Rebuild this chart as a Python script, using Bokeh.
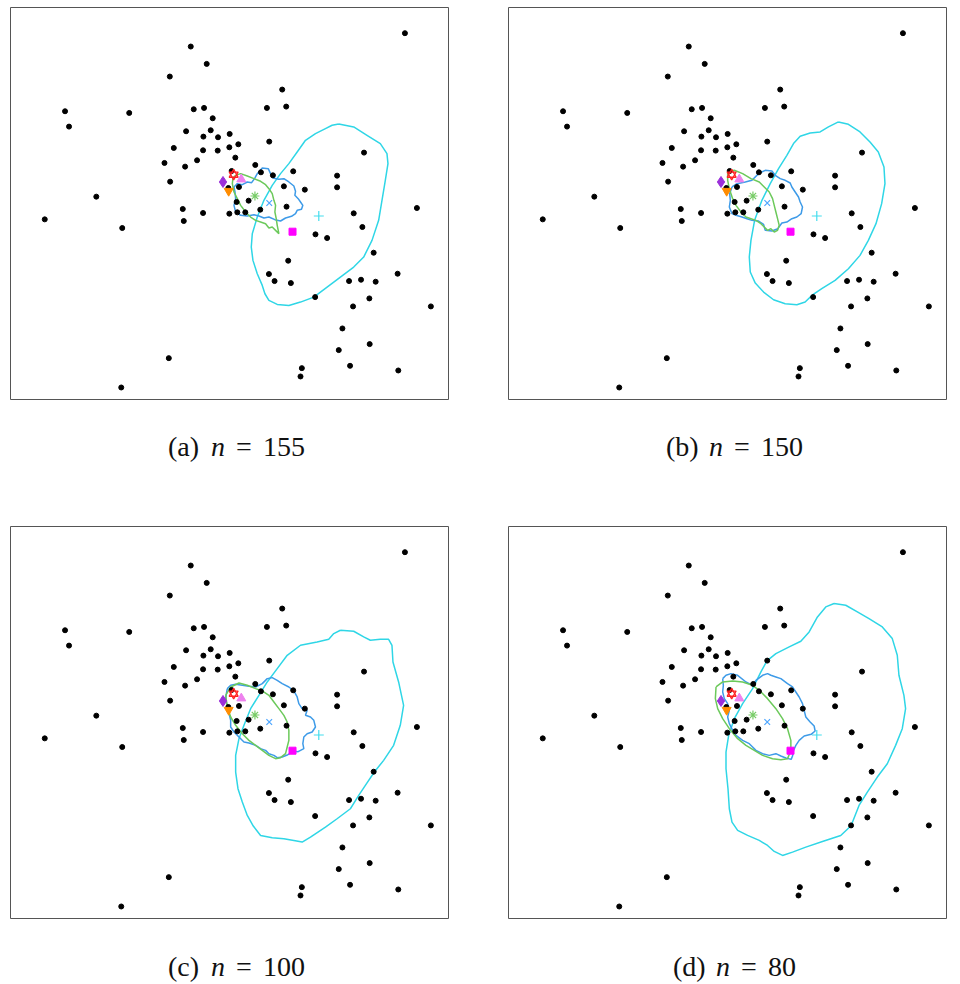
from bokeh.plotting import figure
from bokeh.models import Range1d
from bokeh.core.properties import value
from bokeh.layouts import column, row
from bokeh.embed import file_html
from bokeh.resources import INLINE

# ---------------- data (panel-local coordinates) ----------------
dot_x = [1214, 570, 618, 507, 845, 192, 385, 579, 610, 799, 857, 204, 636, 556, 630, 608, 652, 687, 806, 519,
         607, 651, 686, 713, 1091, 704, 491, 589, 553, 764, 878, 508, 693, 781, 817, 1010, 850, 1010, 913, 715,
         546, 549, 607, 686, 710, 734, 779, 858, 708, 744, 286, 131, 364, 1060, 1086, 1250, 945, 980, 1120, 863,
         805, 822, 871, 1192, 1046, 1082, 1126, 944, 1107, 1058, 1292, 1026, 1108, 1015, 1049, 1194, 904, 900, 504, 361,
         683]
dot_y = [99, 139, 191, 229, 268, 333, 338, 327, 323, 323, 319, 379, 354, 393, 390, 409, 411, 401, 424, 443,
         450, 451, 441, 432, 457, 472, 488, 480, 499, 494, 513, 544, 512, 516, 525, 526, 558, 561, 568, 560,
         626, 662, 638, 640, 636, 636, 628, 619, 605, 601, 589, 657, 683, 639, 680, 623, 702, 713, 757, 781,
         821, 842, 848, 820, 842, 838, 844, 890, 894, 918, 918, 984, 1031, 1049, 1096, 1110, 1103, 1128, 1073, 1161,
         563]

# special estimators: (x, y)
mk_purple = (667, 545)
mk_orange = (684, 572)
mk_red = (699, 523)
mk_pink = (722, 537)
mk_green = (763, 587)
mk_blue = (806, 608)
mk_cyan = (955, 647)
mk_magenta = (876, 694)

captions = [("(a)", "155"), ("(b)", "150"), ("(c)", "100"), ("(d)", "80")]

cyan_a = [(1015,371),(1060,380),(1100,405),(1140,430),(1160,460),(1163,490),(1155,540),(1145,600),(1135,660),
          (1115,720),(1090,770),(1060,800),(1020,830),(980,860),(940,890),(900,905),(865,915),(830,912),(805,900),
          (793,880),(785,855),(770,820),(757,780),(752,740),(755,700),(770,650),(790,600),(815,555),(840,520),
          (865,490),(890,455),(915,420),(945,400),(975,385),(995,375)]
blue_a = [(770,520),(785,503),(803,505),(810,520),(817,533),(835,537),(850,535),(865,545),(880,557),(885,573),
          (883,585),(893,595),(900,605),(907,615),(903,627),(890,630),(885,640),(873,648),(855,653),(840,662),
          (823,658),(805,650),(790,653),(775,647),(760,643),(740,647),(720,645),(705,635),(700,615),(705,595),
          (703,575),(700,560),(710,550),(725,553),(740,545),(753,547),(763,533)]
green_a = [(705,525),(720,520),(740,527),(760,535),(780,543),(795,553),(805,565),(815,580),(820,600),(825,615),
           (823,635),(827,655),(830,675),(835,700),(825,690),(815,680),(805,683),(795,670),(780,665),(765,660),
           (750,650),(735,635),(720,615),(710,595),(700,575),(695,550),(697,533)]

cyan_b = [(1020,365),(1050,372),(1085,395),(1115,425),(1140,455),(1157,500),(1160,550),(1150,610),(1133,670),
          (1110,720),(1085,765),(1050,805),(1010,840),(970,865),(940,885),(920,905),(895,913),(860,910),(825,898),
          (795,875),(770,848),(755,815),(752,770),(757,720),(768,660),(790,600),(815,550),(840,505),(865,465),
          (885,430),(905,408),(935,398),(965,395),(990,380)]
blue_b = [(700,560),(715,550),(740,545),(760,540),(780,520),(800,510),(820,512),(830,525),(845,535),(860,540),
          (875,548),(880,560),(890,575),(900,590),(905,605),(912,620),(908,640),(895,650),(880,655),(865,665),
          (850,668),(838,685),(820,692),(800,690),(795,672),(780,662),(760,660),(745,655),(730,650),(712,645),
          (700,640),(692,620),(695,600),(693,580)]
green_b = [(687,515),(707,510),(732,520),(757,535),(782,545),(797,560),(812,575),(822,595),(827,615),(832,635),
           (837,655),(842,675),(837,690),(827,695),(817,685),(807,690),(797,680),(787,670),(772,660),(757,655),
           (742,650),(727,635),(712,615),(702,595),(692,565),(687,540)]

cyan_c = [(1020,333),(1060,336),(1090,353),(1110,363),(1140,360),(1165,360),(1175,378),(1178,428),(1195,488),
          (1210,558),(1200,618),(1180,678),(1150,723),(1122,758),(1095,798),(1075,828),(1050,868),(1010,898),
          (975,923),(930,953),(905,968),(880,963),(850,958),(815,955),(780,948),(758,920),(740,888),(725,848),
          (712,808),(705,758),(705,708),(715,658),(730,618),(750,568),(775,528),(800,488),(830,448),(860,408),
          (900,378),(950,368),(985,360),(1000,343)]
blue_c = [(680,508),(690,498),(705,495),(725,498),(745,501),(765,503),(785,493),(800,478),(815,475),(830,483),
          (845,493),(865,503),(880,515),(890,533),(895,553),(905,568),(920,573),(915,588),(930,593),(940,603),
          (945,623),(935,638),(920,643),(910,653),(907,673),(910,688),(893,697),(878,696),(862,706),(845,713),
          (830,715),(820,708),(805,703),(795,693),(780,688),(765,678),(745,671),(730,668),(715,653),(700,638),
          (690,623),(690,603),(685,583),(680,563),(675,538),(678,518)]
green_c = [(675,528),(690,503),(715,491),(740,498),(765,508),(785,515),(805,528),(820,548),(835,568),(850,588),
           (860,608),(865,633),(865,663),(860,683),(855,703),(840,715),(825,718),(805,708),(785,693),(765,678),
           (745,663),(725,643),(705,618),(690,593),(680,563)]

cyan_d = [(1007,253),(1042,258),(1077,278),(1112,298),(1152,323),(1182,358),(1197,408),(1202,468),(1217,528),
          (1222,568),(1212,628),(1192,678),(1167,733),(1137,773),(1107,818),(1082,858),(1058,919),(1027,948),
          (972,966),(922,983),(882,998),(852,1008),(827,996),(807,978),(782,963),(747,948),(717,933),(700,908),
          (692,868),(688,808),(682,748),(682,698),(690,648),(707,598),(732,553),(762,508),(787,458),(805,425),
          (832,403),(872,383),(907,366),(932,338),(957,293),(982,263)]
blue_d = [(672,478),(682,468),(697,463),(717,468),(742,488),(762,498),(772,483),(792,468),(807,463),(817,468),
          (832,473),(847,478),(867,493),(882,503),(892,518),(902,533),(912,553),(917,573),(922,593),(935,608),
          (947,620),(950,635),(938,645),(917,650),(902,663),(892,678),(885,693),(882,710),(878,720),(862,716),
          (847,710),(832,703),(812,708),(792,703),(772,693),(762,683),(752,673),(732,663),(712,648),(702,633),
          (692,613),(687,593),(692,573),(687,553),(677,538),(672,518),(674,498)]
green_d = [(652,503),(672,488),(702,485),(732,488),(762,498),(782,513),(807,538),(832,568),(852,598),(867,628),
           (877,663),(877,693),(867,718),(847,721),(822,718),(792,708),(767,693),(742,678),(717,658),(692,628),
           (672,598),(657,568),(650,538)]

contours = [(cyan_a, blue_a, green_a), (cyan_b, blue_b, green_b), (cyan_c, blue_c, green_c), (cyan_d, blue_d, green_d)]

# ---------------- styling ----------------
C_CYAN = "#2FD6E6"
C_BLUE = "#3E9BE8"
C_GREEN = "#6CC95B"
FONT = "Liberation Serif"
FW, FH = 438, 393


def make_panel(idx, left, right, top):
    p = figure(width=left + FW + right, height=FH + top,
               x_range=Range1d(28, 1345), y_range=Range1d(1200, 22),
               output_backend="svg", toolbar_location=None,
               x_axis_location=None, y_axis_location=None,
               min_border_left=left, min_border_right=right,
               min_border_top=top, min_border_bottom=0,
               outline_line_color="#555555", outline_line_width=1,
               background_fill_color="white", border_fill_color="white")
    p.xgrid.visible = False
    p.ygrid.visible = False

    cy, bl, gr = contours[idx]
    for pts, col in ((cy, C_CYAN), (bl, C_BLUE), (gr, C_GREEN)):
        xs = [q[0] for q in pts] + [pts[0][0]]
        ys = [q[1] for q in pts] + [pts[0][1]]
        p.line(xs, ys, line_color=col, line_width=1.5)

    p.scatter(dot_x, dot_y, size=5, color="black")

    p.scatter([mk_purple[0]], [mk_purple[1]], marker="diamond", size=11, color="#9B30D9")
    p.scatter([mk_orange[0]], [mk_orange[1]], marker="inverted_triangle", size=9, color="#FF8C00")
    for m in ("triangle", "inverted_triangle"):
        p.scatter([mk_red[0]], [mk_red[1]], marker=m, size=9, fill_color=None,
                  line_color="#FF2222", line_width=1.3)
    p.scatter([mk_pink[0]], [mk_pink[1]], marker="triangle", size=9, color="#EE82EE")
    p.scatter([mk_green[0]], [mk_green[1]], marker="asterisk", size=9, fill_color=None,
              line_color="#77CC66", line_width=1.2)
    p.scatter([mk_blue[0]], [mk_blue[1]], marker="x", size=8, fill_color=None,
              line_color="#4DA6FF", line_width=1.2)
    p.scatter([mk_cyan[0]], [mk_cyan[1]], marker="cross", size=10, fill_color=None,
              line_color="#44DDEE", line_width=1.2)
    p.scatter([mk_magenta[0]], [mk_magenta[1]], marker="square", size=7, color="#FF00FF")
    return p


def make_caption(idx, left, right, height, yc):
    # frame is aligned with the panel above it, so coordinates are frame pixels
    p = figure(width=left + FW + right, height=height, x_range=Range1d(0, FW), y_range=Range1d(height, 0),
               output_backend="svg", toolbar_location=None,
               x_axis_location=None, y_axis_location=None,
               min_border_left=left, min_border_right=right, min_border_top=0, min_border_bottom=0,
               outline_line_color=None, background_fill_color="white", border_fill_color="white")
    p.xgrid.visible = False
    p.ygrid.visible = False
    letter, num = captions[idx]
    c = 226
    total = 95 + 14 * len(num)
    s = c - total / 2
    common = dict(text_font=value(FONT), text_font_size="28px", text_color="#111111",
                  text_baseline="middle")
    p.text([s], [yc], text=[letter], text_align="left", **common)
    p.text([s + 50], [yc], text=["n"], text_align="center", text_font_style="italic", **common)
    p.text([s + 76], [yc], text=["="], text_align="center", **common)
    p.text([s + 95], [yc], text=[num], text_align="left", **common)
    return p


pa = make_panel(0, 10, 58, 7)
pb = make_panel(1, 2, 2, 7)
ca = make_caption(0, 10, 58, 126, 46)
cb = make_caption(1, 2, 2, 126, 46)
pc = make_panel(2, 10, 58, 0)
pd = make_panel(3, 2, 2, 0)
cc = make_caption(2, 10, 58, 64, 47)
cd = make_caption(3, 2, 2, 64, 47)

layout = column(row(column(pa, ca), column(pb, cb)), row(column(pc, cc), column(pd, cd)))
open("out.html", "w").write(file_html(layout, INLINE))
